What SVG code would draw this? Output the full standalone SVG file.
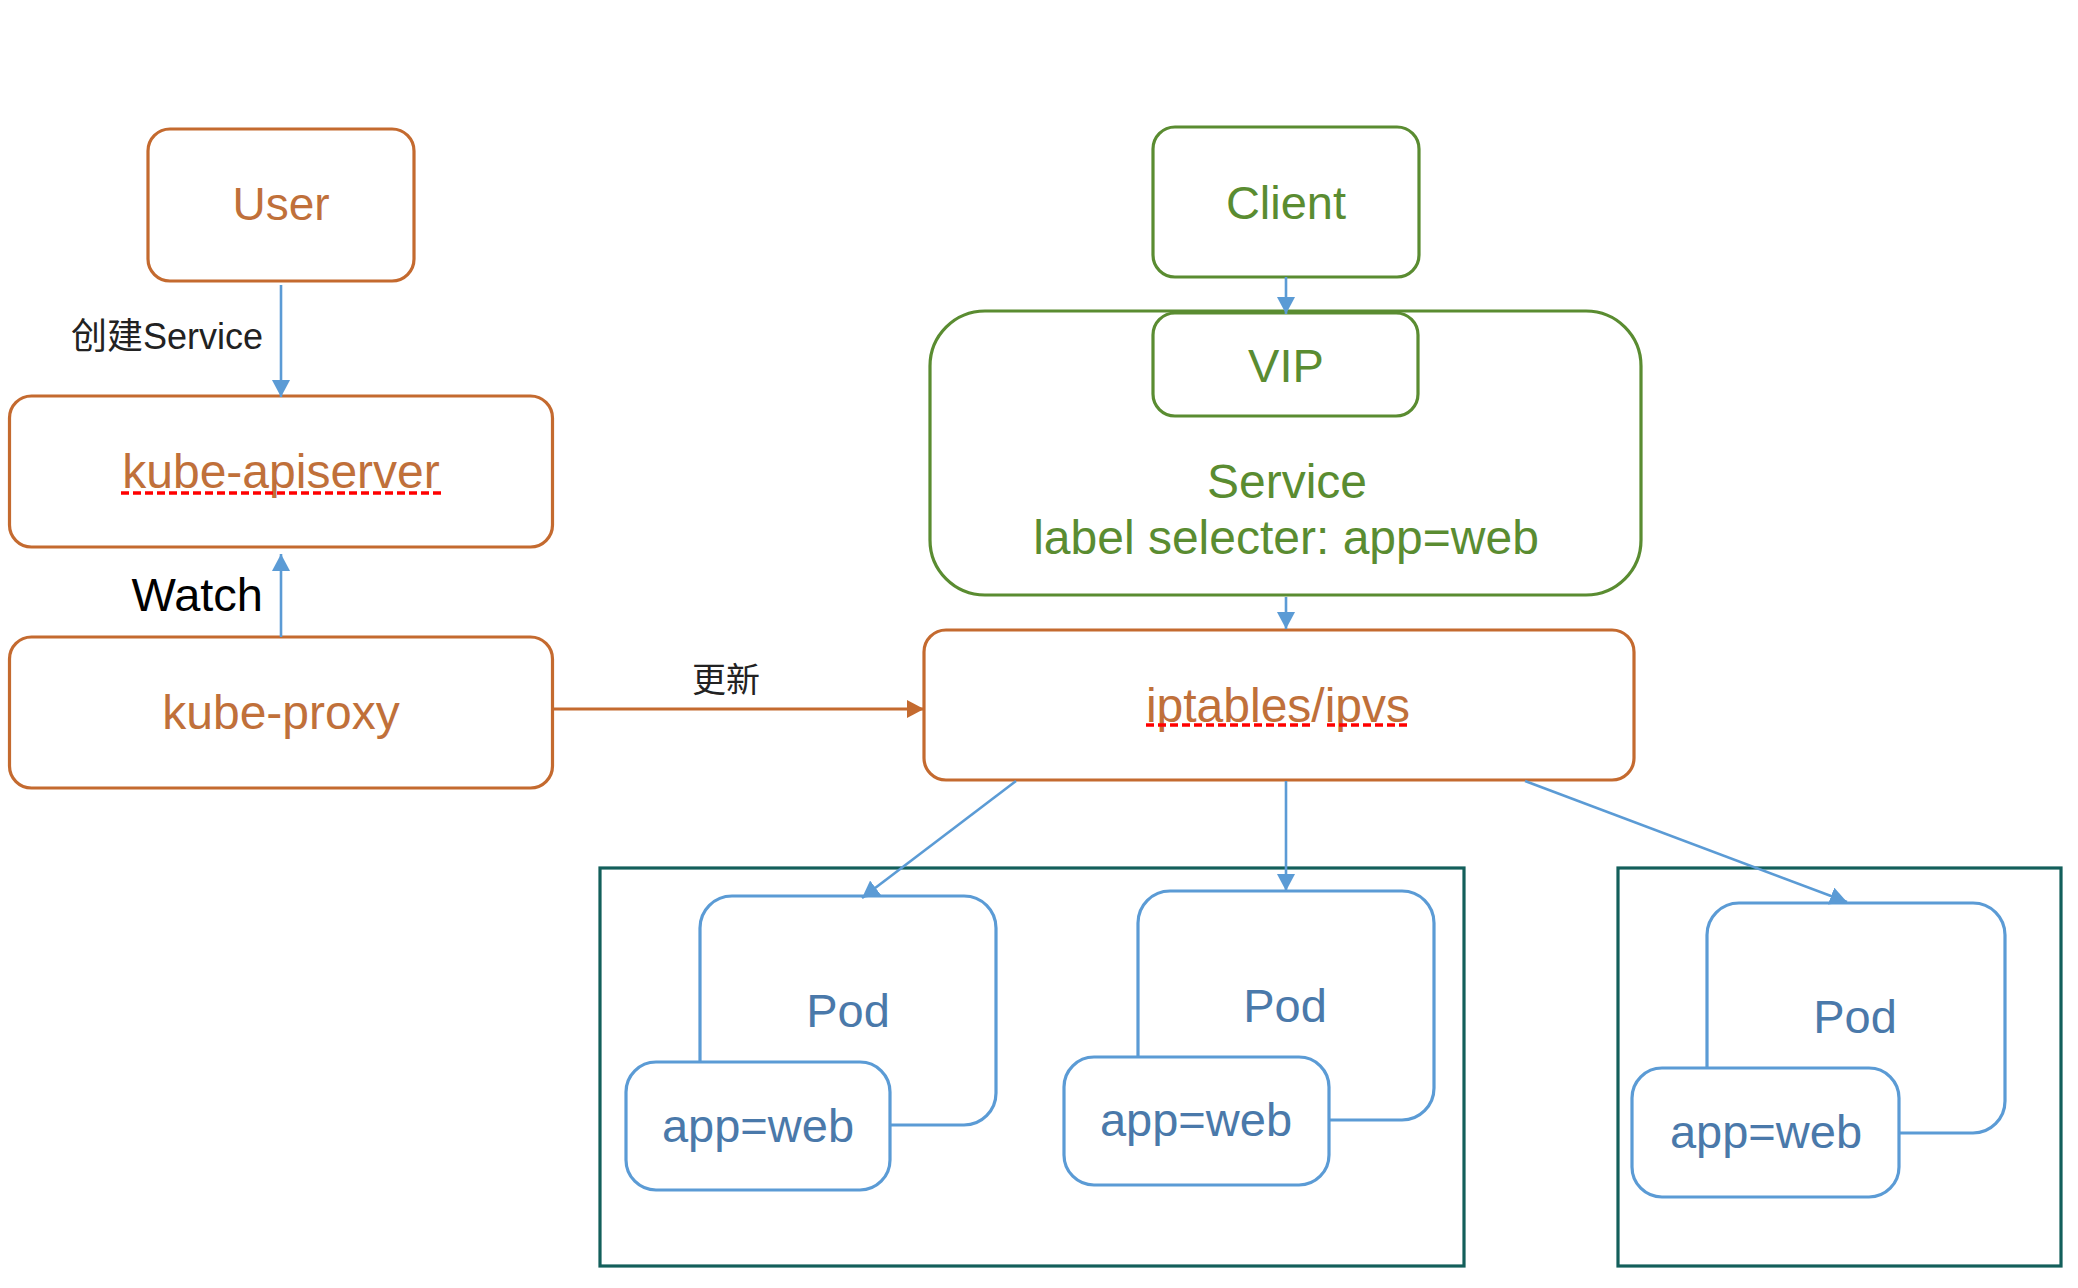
<svg xmlns="http://www.w3.org/2000/svg" width="2078" height="1288" viewBox="0 0 2078 1288">
  <defs>
    <style>
      .t { font-family: "Liberation Sans", Arial, Helvetica, "Noto Sans CJK SC", sans-serif; text-anchor: middle; }
      .e { font-family: "Liberation Sans", Arial, Helvetica, "Noto Sans CJK SC", sans-serif; text-anchor: end; }
      .ob { fill: #ffffff; stroke: #c46a2f; stroke-width: 3.2; }
      .gb { fill: #ffffff; stroke: #5a8c31; stroke-width: 3.2; }
      .pb { fill: #ffffff; stroke: #5b9bd5; stroke-width: 3.2; }
      .cb { fill: none; stroke: #135f5b; stroke-width: 3.2; }
      .ot { fill: #c0703a; font-size: 48px; }
      .gt { fill: #5a8c31; font-size: 47px; }
      .pt { fill: #4a79aa; font-size: 47px; }
      .bl { stroke: #5b9bd5; stroke-width: 2.6; fill: none; }
      .ol { stroke: #c46a2f; stroke-width: 2.8; fill: none; }
      .sp { stroke: #ff0000; stroke-width: 3.5; stroke-dasharray: 8 4; fill: none; }
    </style>
    <marker id="ab" markerUnits="userSpaceOnUse" markerWidth="18" markerHeight="18" viewBox="0 0 18 18" refX="17" refY="9" orient="auto">
      <path d="M0,0 L17,9 L0,18 Z" fill="#5b9bd5"/>
    </marker>
    <marker id="ao" markerUnits="userSpaceOnUse" markerWidth="18" markerHeight="18" viewBox="0 0 18 18" refX="17" refY="9" orient="auto">
      <path d="M0,0 L17,9 L0,18 Z" fill="#c46a2f"/>
    </marker>
  </defs>
  <rect width="2078" height="1288" fill="#ffffff"/>

  <!-- containers -->
  <g id="node-host1"><rect class="cb" x="600" y="868" width="864" height="398"/></g>
  <g id="node-host2"><rect class="cb" x="1618" y="868" width="443" height="398"/></g>

  <g id="node-user">
    <rect class="ob" x="148" y="129" width="266" height="152" rx="22"/>
    <text class="t ot" x="281" y="220" style="font-size:46px">User</text>
  </g>
  <g id="node-apiserver">
    <rect class="ob" x="9.5" y="396" width="543" height="151" rx="22"/>
    <text class="t ot" x="281" y="488">kube-apiserver</text>
    <line class="sp" x1="121" y1="493" x2="443" y2="493"/>
  </g>
  <g id="node-proxy">
    <rect class="ob" x="9.5" y="637" width="543" height="151" rx="22"/>
    <text class="t ot" x="281" y="729">kube-proxy</text>
  </g>

  <g id="node-service">
    <rect class="gb" x="930" y="311" width="711" height="284" rx="55"/>
    <text class="t gt" x="1287" y="498" style="font-size:48px">Service</text>
    <text class="t gt" x="1286" y="554" style="font-size:48px">label selecter: app=web</text>
  </g>
  <g id="node-vip">
    <rect class="gb" x="1153" y="313" width="265" height="103" rx="22"/>
    <text class="t gt" x="1286" y="382">VIP</text>
  </g>
  <g id="node-client">
    <rect class="gb" x="1153" y="127" width="266" height="150" rx="22"/>
    <text class="t gt" x="1286" y="219">Client</text>
  </g>

  <g id="node-iptables">
    <rect class="ob" x="924" y="630" width="710" height="150" rx="22"/>
    <text class="t ot" x="1278" y="722">iptables/ipvs</text>
    <line class="sp" x1="1146" y1="725" x2="1310" y2="725"/>
    <line class="sp" x1="1327" y1="725" x2="1409" y2="725"/>
  </g>

  <g id="node-pod1">
    <rect class="pb" x="700" y="896" width="296" height="229" rx="32"/>
    <text class="t pt" x="848" y="1027">Pod</text>
    <rect class="pb" x="626" y="1062" width="264" height="128" rx="30"/>
    <text class="t pt" x="758" y="1142">app=web</text>
  </g>
  <g id="node-pod2">
    <rect class="pb" x="1138" y="891" width="296" height="229" rx="32"/>
    <text class="t pt" x="1285" y="1022">Pod</text>
    <rect class="pb" x="1064" y="1057" width="265" height="128" rx="30"/>
    <text class="t pt" x="1196" y="1136">app=web</text>
  </g>
  <g id="node-pod3">
    <rect class="pb" x="1707" y="903" width="298" height="230" rx="32"/>
    <text class="t pt" x="1855" y="1033">Pod</text>
    <rect class="pb" x="1632" y="1068" width="267" height="129" rx="30"/>
    <text class="t pt" x="1766" y="1148">app=web</text>
  </g>

  <g id="connectors">
    <line class="bl" x1="281" y1="285" x2="281" y2="397" marker-end="url(#ab)"/>
    <text class="e" x="263" y="349" font-size="36" fill="#222222">创建Service</text>
    <line class="bl" x1="281" y1="637" x2="281" y2="554" marker-end="url(#ab)"/>
    <text class="e" x="263" y="611" font-size="47" fill="#000000">Watch</text>
    <line class="ol" x1="553" y1="709" x2="924" y2="709" marker-end="url(#ao)"/>
    <text class="t" x="726" y="692" font-size="34" fill="#222222">更新</text>
    <line class="bl" x1="1286" y1="277" x2="1286" y2="314" marker-end="url(#ab)"/>
    <line class="bl" x1="1286" y1="597" x2="1286" y2="629" marker-end="url(#ab)"/>
    <line class="bl" x1="1016" y1="781" x2="862" y2="898" marker-end="url(#ab)"/>
    <line class="bl" x1="1286" y1="781" x2="1286" y2="891" marker-end="url(#ab)"/>
    <line class="bl" x1="1525" y1="781" x2="1847" y2="902" marker-end="url(#ab)"/>
  </g>
</svg>
